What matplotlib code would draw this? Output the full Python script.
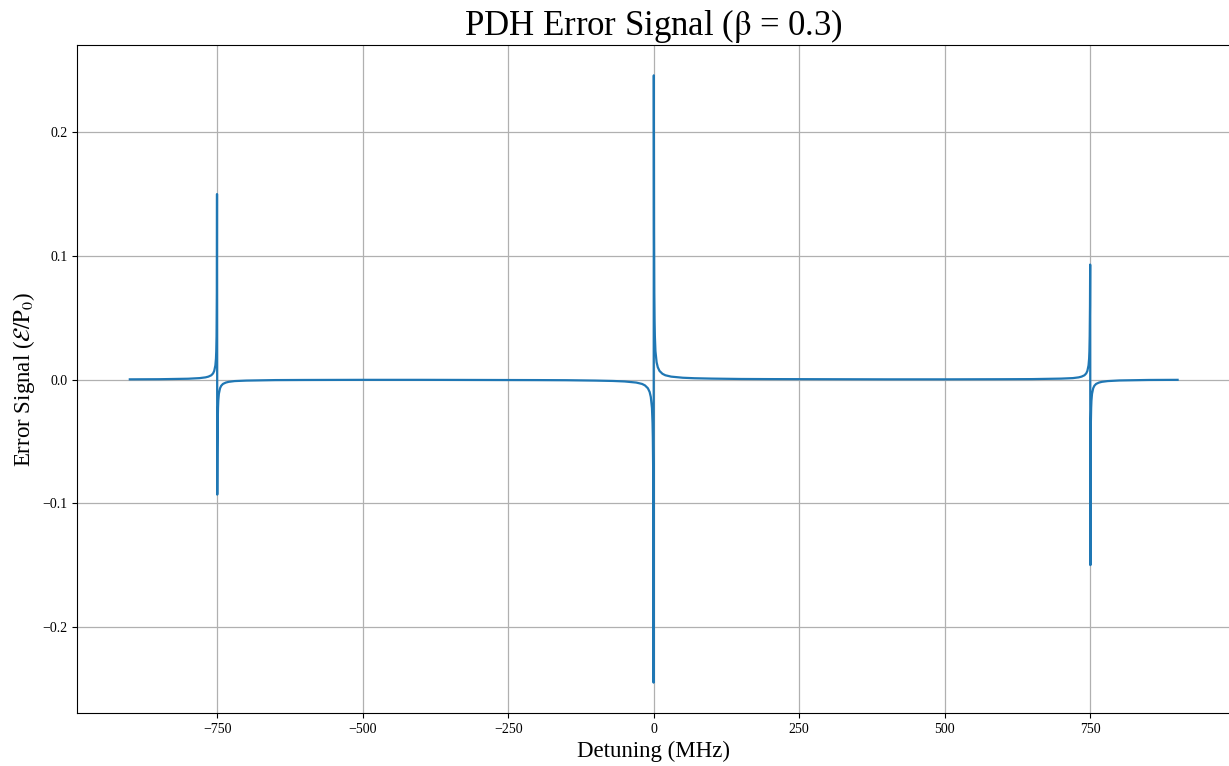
import matplotlib
matplotlib.use("Agg")
import matplotlib.pyplot as plt

plt.rcParams['font.family'] = ['Liberation Serif', 'DejaVu Serif']
plt.rcParams['mathtext.fontset'] = 'stix'

# detuning (MHz) and error signal (eps/P0)
detuning = [
    -900, -850, -800, -780, -770, -765, -760, -757, -755, -753, -752, -751.5, -751,
    -750.5, -750.2, -749.8, -749.5, -749, -748.5, -748, -747, -745, -743, -740, -735,
    -730, -720, -700, -650, -600, -500, -400, -300, -200, -150, -100, -70, -50, -30,
    -20, -15, -10, -7, -5, -3, -2, -1.5, -1, -0.6, -0.2,
    0.2, 0.6, 1, 1.5, 2, 3, 5, 7, 10, 15, 20, 30, 50, 70, 100, 150, 200, 300, 400,
    500, 600, 650, 700, 720, 730, 735, 740, 743, 745, 747, 748, 748.5, 749, 749.5,
    749.8, 750.2, 750.5, 751, 751.5, 752, 753, 755, 757, 760, 765, 770, 780, 800,
    850, 900,
]
error_signal = [
    0.0002, 0.0003, 0.0007, 0.0012, 0.0018, 0.0024, 0.0035, 0.005, 0.007, 0.0115,
    0.017, 0.023, 0.035, 0.070, 0.150, -0.093, -0.060, -0.035, -0.023, -0.017,
    -0.0115, -0.007, -0.005, -0.0035, -0.0024, -0.0018, -0.0012, -0.0008, -0.0004,
    -0.0003, -0.0002, -0.0002, -0.0003, -0.0004, -0.0005, -0.0008, -0.0011, -0.0015,
    -0.0024, -0.0035, -0.0047, -0.007, -0.010, -0.014, -0.023, -0.035, -0.047,
    -0.070, -0.120, -0.245,
    0.246, 0.120, 0.070, 0.047, 0.035, 0.023, 0.014, 0.010, 0.007, 0.0047, 0.0035,
    0.0024, 0.0015, 0.0011, 0.0008, 0.0005, 0.0004, 0.0003, 0.0002, 0.0002, 0.0003,
    0.0004, 0.0008, 0.0012, 0.0018, 0.0024, 0.0035, 0.005, 0.007, 0.0115, 0.017,
    0.023, 0.035, 0.060, 0.093, -0.150, -0.070, -0.035, -0.023, -0.017, -0.0115,
    -0.007, -0.005, -0.0035, -0.0024, -0.0018, -0.0012, -0.0007, -0.0003, -0.0002,
]
x_ticks = [-750, -500, -250, 0, 250, 500, 750]
y_ticks = [-0.2, -0.1, 0.0, 0.1, 0.2]

fig = plt.figure(figsize=(12.29, 7.66), dpi=100)
ax = fig.add_axes([0.0630, 0.0692, 0.9378, 0.8721])

ax.plot(detuning, error_signal, color='#1f77b4', linewidth=1.6)

ax.set_xticks(x_ticks)
ax.set_yticks(y_ticks)
ax.tick_params(labelsize=10)
ax.grid(True, color='#b0b0b0', linewidth=0.9)

ax.set_title(r'PDH Error Signal ($\mathrm{\beta}$ = 0.3)', fontsize=25)
ax.set_xlabel('Detuning (MHz)', fontsize=16.5)
ax.set_ylabel(r'Error Signal ($\mathcal{E}/\mathrm{P}_0$)', fontsize=16.5)

fig.savefig('out.png', dpi=100)
